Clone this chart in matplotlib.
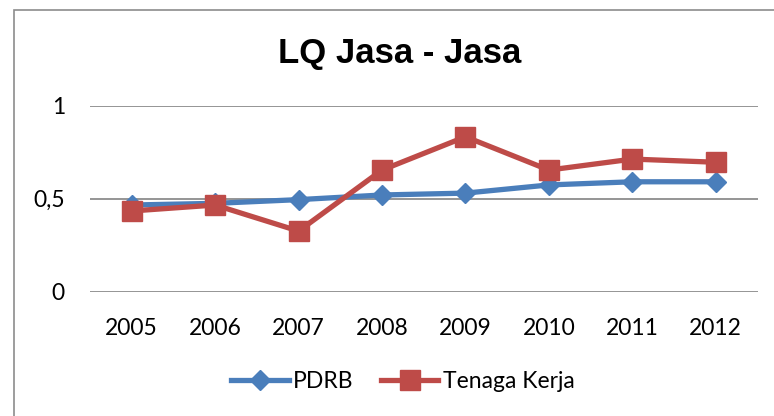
import matplotlib
matplotlib.use("Agg")
import matplotlib.pyplot as plt
from matplotlib.patches import Rectangle

# data
years = ["2005", "2006", "2007", "2008", "2009", "2010", "2011", "2012"]
pdrb = [0.466, 0.475, 0.495, 0.52, 0.53, 0.574, 0.591, 0.591]
tenaga_kerja = [0.434, 0.466, 0.326, 0.654, 0.833, 0.654, 0.713, 0.696]
y_ticks = [0, 0.5, 1]
y_tick_labels = ["0", "0,5", "1"]

W, H = 774, 416
fig = plt.figure(figsize=(W / 100, H / 100), dpi=100)

# outer chart border (left and top visible)
fig.patches.append(Rectangle((14 / W, -0.05), 1.1, 1 - 10 / H + 0.05,
                             transform=fig.transFigure, fill=False,
                             edgecolor="#8c8c8c", linewidth=1.2))

ax = fig.add_axes([90 / W, 1 - 291.7 / H, (757.5 - 90) / W, (291.7 - 105.7) / H])
x = list(range(len(years)))

ax.plot(x, pdrb, color="#4A7EBB", linewidth=3.8, marker="D", markersize=10,
        label="PDRB", zorder=3)
ax.plot(x, tenaga_kerja, color="#BE4B48", linewidth=3.8, marker="s",
        markersize=14.5, label="Tenaga Kerja", zorder=4)

ax.set_xlim(-0.5, len(years) - 0.5)
ax.set_ylim(0, 1)
ax.set_yticks(y_ticks)
ax.set_yticklabels(y_tick_labels)
ax.set_xticks(x)
ax.set_xticklabels(years)
for s in ax.spines.values():
    s.set_visible(False)
ax.grid(axis="y", color="#8c8c8c", linewidth=1.3)
ax.set_axisbelow(True)
ax.tick_params(length=0, labelsize=16.5)
ax.tick_params(axis="y", pad=18)
ax.tick_params(axis="x", pad=19)
for lab in ax.get_xticklabels() + ax.get_yticklabels():
    lab.set_fontfamily("Lato")

fig.text(400 / W, 1 - 53 / H, "LQ Jasa - Jasa", ha="center", va="center",
         fontsize=25, fontweight="bold",
         family=["Liberation Sans Narrow", "Liberation Sans"])

fig.legend(loc="center", bbox_to_anchor=(403 / W, 1 - 382 / H), ncol=2,
           frameon=False, prop={"family": "Lato", "size": 16.5},
           handlelength=2.5, columnspacing=1.2, handletextpad=0.2)

fig.savefig("out.png", dpi=100)
